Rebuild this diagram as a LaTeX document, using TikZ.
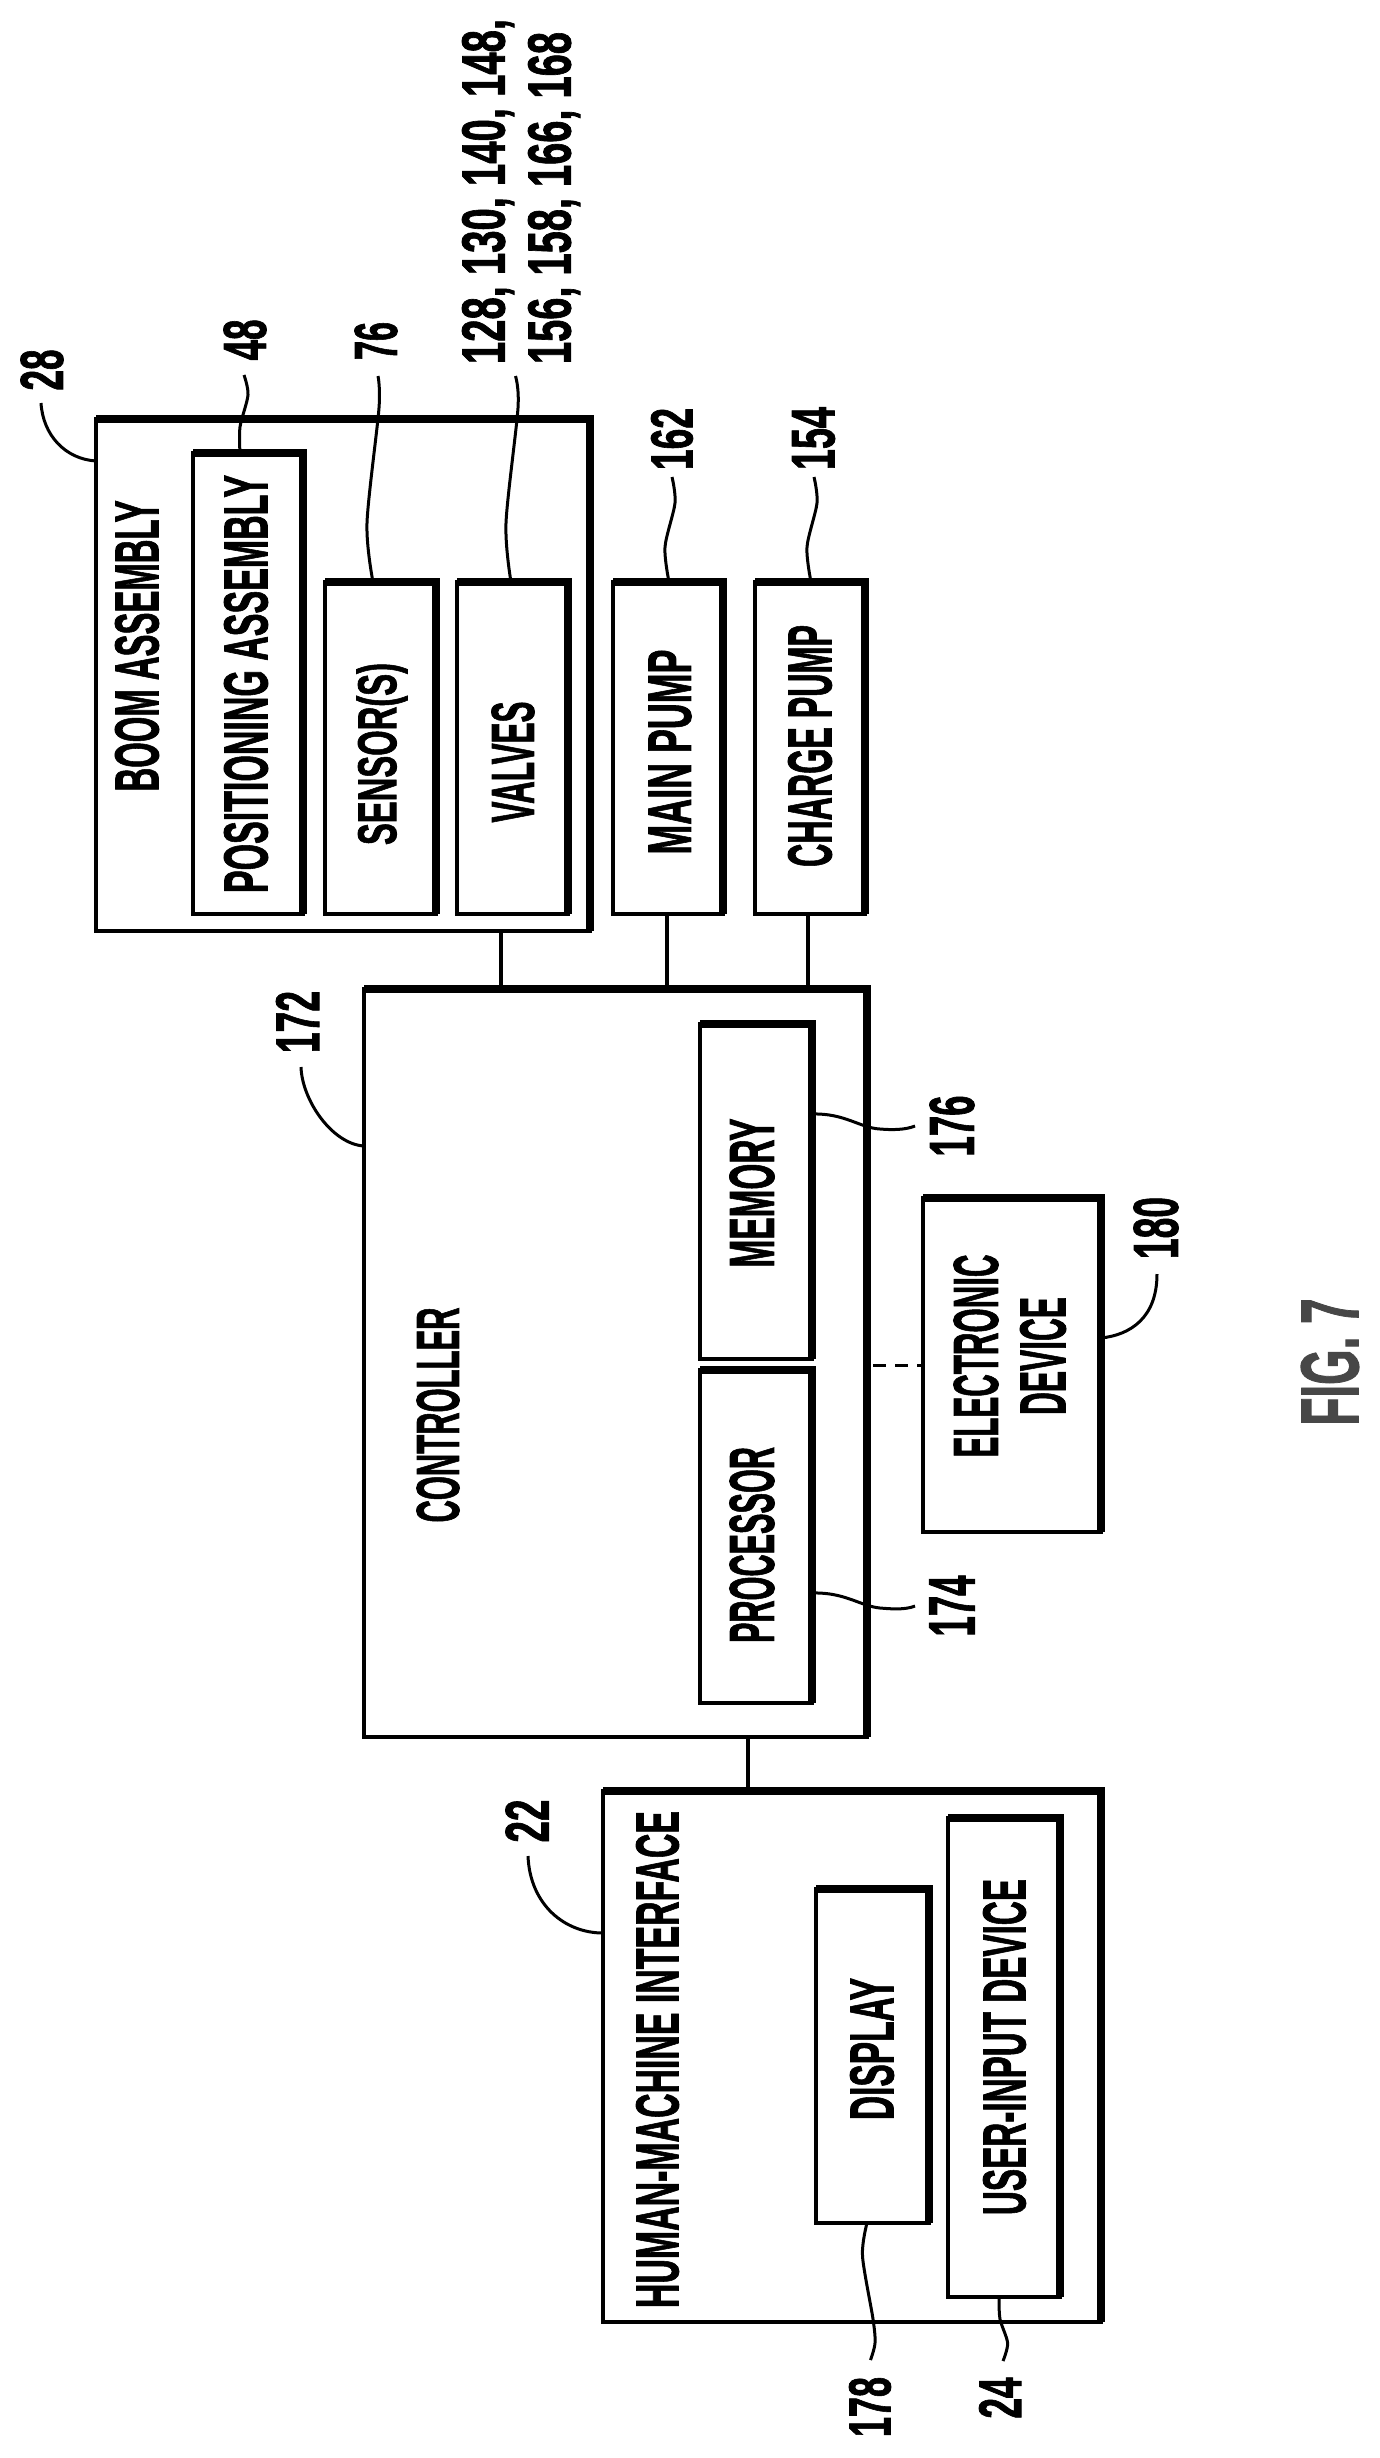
\documentclass[tikz,border=0pt]{standalone}
\usepackage{fontspec}
\usepackage{graphicx}
\setmainfont{Liberation Sans}
\newfontfamily\labfont[FakeBold=1.6]{Liberation Sans Bold}
\tikzset{
  boxthin/.style={draw=black,line width=4pt,inner sep=0pt,outer sep=0pt,rectangle,line join=miter},
  boxthick/.style={draw=black,line width=8pt,line join=miter},
  lbl/.style={inner sep=0pt,outer sep=0pt,rotate=90,text=black},
  wire/.style={draw=black,line width=3.6pt},
  lead/.style={draw=black,line width=3pt},
  dashwire/.style={draw=black,line width=3pt,dash pattern=on 13pt off 9pt,shorten <=6pt}
}
% name, outer x1, y1, x2, y2
\newcommand\bxx[5]{%
  \pgfmathsetmacro\bxw{#4-4-#2-2}%
  \pgfmathsetmacro\bxh{#5-2-#3-4}%
  \pgfmathsetmacro\bxcx{(#2+2+#4-4)/2}%
  \pgfmathsetmacro\bxcy{(#3+4+#5-2)/2}%
  \node[boxthin,minimum width=\bxw pt,minimum height=\bxh pt] (#1) at (\bxcx,\bxcy) {};
  \draw[boxthick] (#1.north west) -- (#1.north east) -- (#1.south east);
}
% name, cx, cy, length, height, text
\newcommand\lbb[6]{\node[lbl] (#1) at (#2,#3) {\resizebox*{#4pt}{#5pt}{\labfont #6}};}
\begin{document}
\begin{tikzpicture}[x=1pt,y=-1pt]
\path[use as bounding box,fill=white] (0,0) rectangle (1380,2458);

% boxes
\bxx{boom}{94}{415}{594}{933}
\bxx{pos}{191}{449}{307}{916}
\bxx{sens}{323}{578}{440}{916}
\bxx{valv}{455}{578}{572}{916}
\bxx{mainp}{611}{578}{727}{916}
\bxx{chrg}{753}{578}{869}{916}
\bxx{ctrl}{362}{985}{871}{1739}
\bxx{mem}{698}{1020}{816}{1361}
\bxx{proc}{698}{1366}{816}{1705}
\bxx{elec}{921}{1194}{1105}{1534}
\bxx{hmi}{601}{1787}{1105}{2324}
\bxx{disp}{814}{1885}{933}{2225}
\bxx{uid}{946}{1814}{1064}{2299}

% box labels
\lbb{tboom}{137}{646}{291}{44}{BOOM ASSEMBLY}
\lbb{tpos}{246}{684}{418}{44}{POSITIONING ASSEMBLY}
\lbb{tsens}{382}{754}{182}{51}{SENSOR(S)}
\lbb{tvalv}{513}{762}{121}{43}{VALVES}
\lbb{tmain}{670}{752}{205}{43}{MAIN PUMP}
\lbb{tchrg}{810}{746}{242}{44}{CHARGE PUMP}
\lbb{tctrl}{438}{1415}{215}{43}{CONTROLLER}
\lbb{tmem}{752}{1193}{149}{45}{MEMORY}
\lbb{tproc}{752}{1545}{196}{45}{PROCESSOR}
\lbb{telec}{976}{1356}{203}{45}{ELECTRONIC}
\lbb{tdev}{1043}{1356}{118}{46}{DEVICE}
\lbb{thmi}{657.5}{2059.5}{497}{43}{HUMAN-MACHINE INTERFACE}
\lbb{tdisp}{872}{2049}{142}{44}{DISPLAY}
\lbb{tuid}{1004.5}{2047}{336}{43}{USER-INPUT DEVICE}

% reference numerals
\lbb{n28}{42}{370}{41}{43}{28}
\lbb{n48}{245}{340}{41}{43}{48}
\lbb{n76}{376}{341}{38}{43}{76}
\lbb{nva}{488}{191.5}{345}{52}{128, 130, 140, 148,}
\lbb{nvb}{554}{198}{332}{52}{156, 158, 166, 168}
\lbb{n162}{672}{439}{62}{42}{162}
\lbb{n154}{813.5}{438.5}{63}{43}{154}
\lbb{n172}{297.5}{1022}{62}{43}{172}
\lbb{n176}{952}{1126}{61}{45}{176}
\lbb{n174}{952}{1606}{61}{45}{174}
\lbb{n180}{1156}{1228}{62}{45}{180}
\lbb{n22}{527}{1821}{43}{43}{22}
\lbb{n178}{870}{2407}{60}{42}{178}
\lbb{n24}{1000}{2398}{41}{42}{24}
\node[lbl,text=black!72] (tfig) at (1330,1362) {\resizebox*{127pt}{58pt}{\labfont FIG. 7}};

% connectors
\coordinate (xboom) at (501,0);
\draw[wire] (boom.south -| xboom) -- (ctrl.north -| xboom);
\coordinate (xmain) at (667,0);
\draw[wire] (mainp.south -| xmain) -- (ctrl.north -| xmain);
\coordinate (xchrg) at (808,0);
\draw[wire] (chrg.south -| xchrg) -- (ctrl.north -| xchrg);
\coordinate (xhmi) at (748,0);
\draw[wire] (ctrl.south -| xhmi) -- (hmi.north -| xhmi);
\draw[dashwire] (ctrl.east |- elec.west) -- (elec.west);

% leaders
\coordinate (l28) at (0,461);
\draw[lead] (boom.west |- l28) .. controls (65,459) and (43,435) .. (41,403);
\coordinate (l48) at (240,0);
\draw[lead] plot[smooth] coordinates {(pos.north -| l48) (240,427) (248,395) (244,375)};
\coordinate (l76) at (373,0);
\draw[lead] plot[smooth] coordinates {(sens.north -| l76) (367,523) (379,408) (378,376)};
\coordinate (lva) at (511,0);
\draw[lead] plot[smooth] coordinates {(valv.north -| lva) (506,523) (518,408) (515.5,376)};
\coordinate (l162) at (669,0);
\draw[lead] plot[smooth] coordinates {(mainp.north -| l162) (665,547) (675,503) (672,477)};
\coordinate (l154) at (811,0);
\draw[lead] plot[smooth] coordinates {(chrg.north -| l154) (807,547) (817,503) (814,477)};
\coordinate (l172) at (0,1146);
\draw[lead] (ctrl.west |- l172) .. controls (332,1144) and (302,1100) .. (301,1067);
\coordinate (l176) at (0,1114);
\draw[lead] (mem.east |- l176) .. controls (845,1113) and (860,1128) .. (880,1129) .. controls (892,1130) and (905,1130) .. (915,1126);
\coordinate (l174) at (0,1593);
\draw[lead] (proc.east |- l174) .. controls (845,1592) and (860,1606) .. (880,1608) .. controls (892,1609) and (905,1610) .. (915,1606);
\coordinate (l180) at (0,1338);
\draw[lead] (elec.east |- l180) .. controls (1130,1335) and (1157,1318) .. (1157,1274);
\coordinate (l22) at (0,1933);
\draw[lead] (hmi.west |- l22) .. controls (565,1933) and (530,1905) .. (528,1856);
\coordinate (l178) at (867,0);
\draw[lead] plot[smooth] coordinates {(disp.south -| l178) (862.5,2256) (873,2319) (875,2343) (870.5,2360)};
\coordinate (l24) at (999,0);
\draw[lead] plot[smooth] coordinates {(uid.south -| l24) (1000,2319) (1007.6,2343) (1003,2361)};
\end{tikzpicture}
\end{document}
